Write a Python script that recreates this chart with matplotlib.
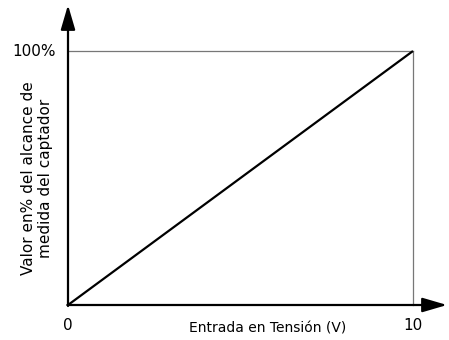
import matplotlib
matplotlib.use("Agg")
import matplotlib.pyplot as plt

x_values = [0, 10]
y_values = [0, 100]
x_ticks = [0, 10]
x_tick_labels = ["0", "10"]
y_tick_label = "100%"
x_label = "Entrada en Tensión (V)"
y_label = "Valor en% del alcance de\nmedida del captador"

plt.rcParams['font.family'] = ['DejaVu Sans']
W, H = 449, 340
fig = plt.figure(figsize=(W/100, H/100), dpi=100)
ox, oy = 68, 305
px10, py100 = 413, 51
ax = fig.add_axes([ox/W, (H-oy)/H, (px10-ox)/W, (oy-py100)/H])
ax.set_xlim(0, 10)
ax.set_ylim(0, 100)
ax.axis('off')

# reference box lines
ax.plot([0, 10], [100, 100], color='#777777', lw=0.9, clip_on=False)
ax.plot([10, 10], [0, 100], color='#777777', lw=0.9, clip_on=False)

# data line
ax.plot(x_values, y_values, color='black', lw=1.6, clip_on=False, solid_capstyle='butt')

# axes with arrows
xtip = (447-ox)/(px10-ox)*10
ytip = (oy-5)/(oy-py100)*100
ap = dict(arrowstyle='-|>,head_length=0.75,head_width=0.22', lw=1.6, color='black',
          shrinkA=0, shrinkB=0, mutation_scale=20)
ax.annotate('', xy=(xtip, 0), xytext=(-0.02, 0), arrowprops=ap, annotation_clip=False)
ax.annotate('', xy=(0, ytip), xytext=(0, -0.4), arrowprops=ap, annotation_clip=False)

for t, l in zip(x_ticks, x_tick_labels):
    fig.text((ox + t/10*(px10-ox))/W, 1-325/H, l, ha='center', va='center', fontsize=11)
fig.text(56/W, 1-51/H, y_tick_label, ha='right', va='center', fontsize=11)
fig.text(268/W, 1-328/H, x_label, ha='center', va='center', fontsize=10)
fig.text(37/W, 1-178/H, y_label, rotation=90, ha='center', va='center', fontsize=11,
         linespacing=1.15)

fig.savefig('out.png', dpi=100)
